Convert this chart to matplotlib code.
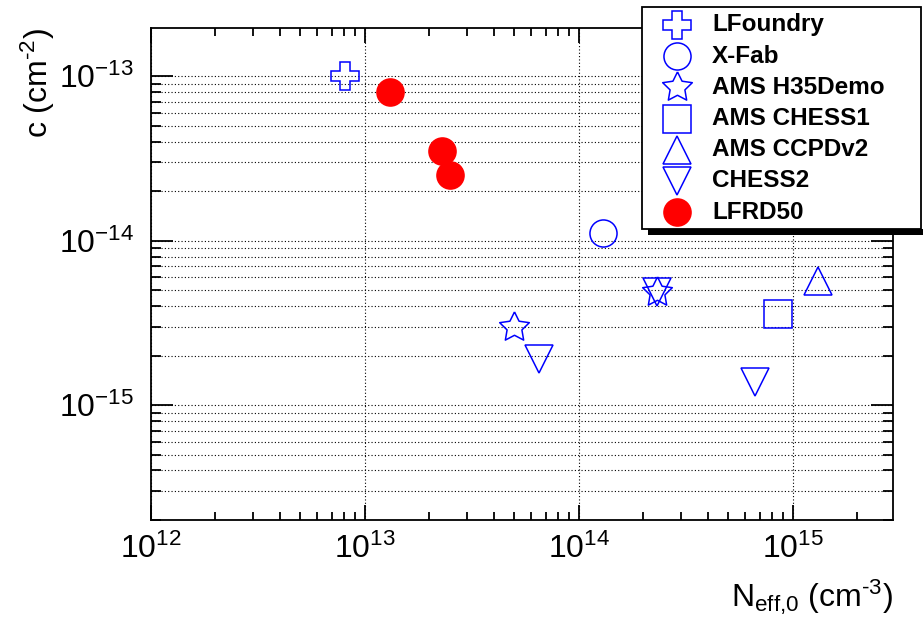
import numpy as np
import matplotlib
matplotlib.use("Agg")
import matplotlib.pyplot as plt
import matplotlib.ticker as mticker
import matplotlib.transforms as mtransforms
from matplotlib.patches import Rectangle
from matplotlib.lines import Line2D

plt.rcParams["font.family"] = ["Liberation Sans", "DejaVu Sans"]
plt.rcParams["mathtext.fontset"] = "custom"
plt.rcParams["mathtext.rm"] = "Liberation Sans"
plt.rcParams["mathtext.it"] = "Liberation Sans:italic"
plt.rcParams["mathtext.bf"] = "Liberation Sans:bold"

# ---- data: initial effective doping vs. acceptor removal constant ----
lfoundry_neff = [8.1e12]
lfoundry_c = [1.0e-13]

xfab_neff = [1.30e14]
xfab_c = [1.11e-14]

h35demo_neff = [5.0e13, 2.31e14]
h35demo_c = [2.98e-15, 4.85e-15]

chess1_neff = [8.55e14]
chess1_c = [3.58e-15]

ccpdv2_neff = [1.31e15]
ccpdv2_c = [5.67e-15]

chess2_neff = [6.53e13, 2.31e14, 6.67e14]
chess2_c = [1.90e-15, 4.85e-15, 1.39e-15]

lfrd50_neff = [1.31e13, 2.29e13, 2.51e13]
lfrd50_c = [7.97e-14, 3.51e-14, 2.50e-14]

x_major = [1e12, 1e13, 1e14, 1e15]
y_major = [1e-15, 1e-14, 1e-13]

# open five-pointed star with a wide body
_ang = np.pi / 2 + np.arange(10) * np.pi / 5
_rad = np.where(np.arange(10) % 2 == 0, 1.0, 0.5)
star = list(zip(_rad * np.cos(_ang), _rad * np.sin(_ang)))
star.append(star[0])

series = [
    ("LFoundry", lfoundry_neff, lfoundry_c, "P", "blue", False),
    ("X-Fab", xfab_neff, xfab_c, "o", "blue", False),
    ("AMS H35Demo", h35demo_neff, h35demo_c, star, "blue", False),
    ("AMS CHESS1", chess1_neff, chess1_c, "s", "blue", False),
    ("AMS CCPDv2", ccpdv2_neff, ccpdv2_c, "^", "blue", False),
    ("CHESS2", chess2_neff, chess2_c, "v", "blue", False),
    ("LFRD50", lfrd50_neff, lfrd50_c, "o", "red", True),
]

W, H = 923, 623
fig = plt.figure(figsize=(W / 100, H / 100), dpi=100)
# axes frame in pixel units (left, top, right, bottom)
L, T, R, B = 150.7, 27.7, 893.3, 520.0
ax = fig.add_axes([L / W, 1 - B / H, (R - L) / W, (B - T) / H])

MS = 19.5


def marker_size(mk):
    return MS * 1.15 if isinstance(mk, list) else MS


for name, xs, ys, mk, col, filled in series:
    ax.plot(xs, ys, linestyle="none", marker=mk, markersize=marker_size(mk),
            markerfacecolor=col if filled else "none",
            markeredgecolor=col, markeredgewidth=1.1, zorder=3)

ax.set_xscale("log")
ax.set_yscale("log")
ax.set_xlim(1e12, 2.95e15)
ax.set_ylim(2.0e-16, 1.97e-13)

fmt = mticker.FuncFormatter(lambda v, p: r"$\mathregular{10^{%d}}$" % int(round(np.log10(v))))
ax.xaxis.set_major_locator(mticker.FixedLocator(x_major))
ax.yaxis.set_major_locator(mticker.FixedLocator(y_major))
ax.xaxis.set_major_formatter(fmt)
ax.yaxis.set_major_formatter(fmt)
ax.xaxis.set_minor_locator(mticker.LogLocator(base=10, subs=np.arange(2, 10), numticks=20))
ax.yaxis.set_minor_locator(mticker.LogLocator(base=10, subs=np.arange(2, 10), numticks=20))
ax.xaxis.set_minor_formatter(mticker.NullFormatter())
ax.yaxis.set_minor_formatter(mticker.NullFormatter())

ax.tick_params(which="both", direction="in", top=True, right=True, width=1.3, color="black")
ax.tick_params(axis="x", which="major", length=11, labelsize=23, pad=10)
ax.tick_params(axis="x", which="minor", length=6)
ax.tick_params(axis="y", which="major", length=16, labelsize=23, pad=12)
ax.tick_params(axis="y", which="minor", length=7)

ax.grid(True, which="major", axis="x", color="black", linestyle=(0, (1, 2)), linewidth=0.8)
ax.grid(True, which="both", axis="y", color="black", linestyle=(0, (1, 2)), linewidth=0.8)
ax.set_axisbelow(True)
for sp in ax.spines.values():
    sp.set_linewidth(1.3)

ax.set_xlabel("N$_{\\mathregular{eff{,}0}}$ (cm$^{\\mathregular{\u20103}}$)", fontsize=23, loc="right", labelpad=9)
ax.set_ylabel("c (cm$^{\\mathregular{\u20102}}$)", fontsize=23, loc="top", labelpad=1)

# ---- legend box drawn in pixel coordinates ----
px = mtransforms.Affine2D().scale(1 / W, -1 / H).translate(0, 1) + fig.transFigure
bx0, by0, bx1, by1 = 642, 7, 921, 229
fig.add_artist(Rectangle((bx0 + 6, by1), bx1 - bx0, 6, transform=px,
                         facecolor="black", edgecolor="none", zorder=9))
fig.add_artist(Rectangle((bx0, by0), bx1 - bx0, by1 - by0, transform=px,
                         facecolor="white", edgecolor="black", linewidth=1.3, zorder=10))
for i, (name, xs, ys, mk, col, filled) in enumerate(series):
    yc = 25 + 31.2 * i
    fig.add_artist(Line2D([677], [yc], transform=px, linestyle="none", marker=mk,
                          markersize=marker_size(mk), markerfacecolor=col if filled else "none",
                          markeredgecolor=col, markeredgewidth=1.1, zorder=11))
    fig.text(712 / W, 1 - yc / H, name, fontsize=17.5, fontweight="bold",
             ha="left", va="center", zorder=12)

fig.savefig("out.png", dpi=100)
